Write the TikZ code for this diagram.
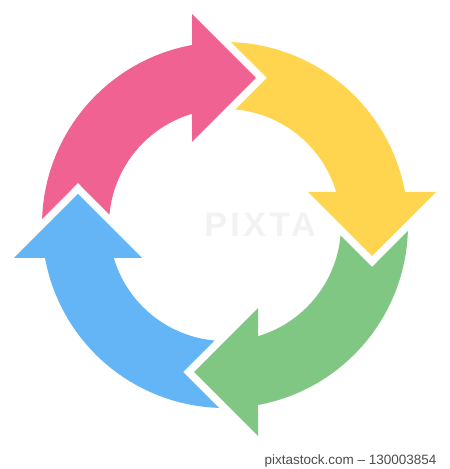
\documentclass[tikz,border=0pt]{standalone}
\usepackage[dvipsnames,svgnames]{xcolor}
\usepackage{fontspec}
\setmainfont{Liberation Sans}

\definecolor{cyclePink}{HTML}{F06292}
\definecolor{cycleYellow}{HTML}{FFD54F}
\definecolor{cycleGreen}{HTML}{81C784}
\definecolor{cycleBlue}{HTML}{64B5F6}

\tikzset{cyclearrow/.style={fill=#1}}

\begin{document}
\begin{tikzpicture}[x=1pt,y=1pt]
    \useasboundingbox (0,0) rectangle (450,469);
    \coordinate (O) at (225,244);
    % watermark
    \node[text=black!5, font=\bfseries\fontsize{34}{34}\selectfont\addfontfeature{LetterSpace=10}]
      (mark) at (260,244) {PIXTA};
    % four arrows, each one a quarter turn further clockwise
    \foreach \col [count=\i from 0] in {cyclePink,cycleYellow,cycleGreen,cycleBlue}{
      \fill[cyclearrow=\col, shift={(O)}, rotate=-90*\i]
        (178.09:183) arc[start angle=178.09, end angle=100.39, radius=183]
        -- (-33,211) -- (31,147) -- (-33,83)
        -- (106.53:116) arc[start angle=106.53, end angle=174.81, radius=116]
        -- (-147,42) -- cycle;
    }
    \node[anchor=base east, text=black!70, font=\fontsize{13.5}{14}\selectfont] (stock) at (440,5)
      {pixtastock.com -- 130003854};
\end{tikzpicture}
\end{document}
